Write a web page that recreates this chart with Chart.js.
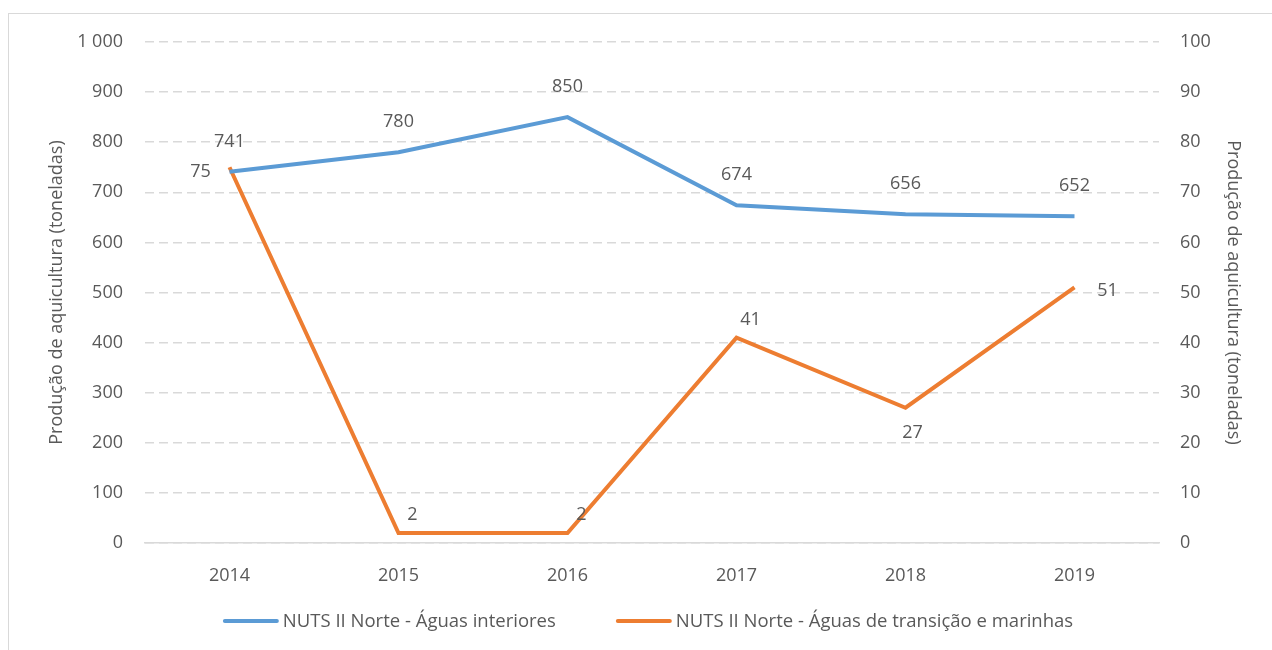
<!DOCTYPE html>
<html>
<head>
<meta charset="utf-8">
<script src="https://cdn.jsdelivr.net/npm/chart.js@4/dist/chart.umd.min.js"></script>
<style>
  html, body { margin: 0; padding: 0; background: #fff; }
  #wrap { width: 1272px; height: 650px; }
</style>
</head>
<body>
<div id="wrap"><canvas id="chart" width="1272" height="650"></canvas></div>
<script>
const years = ['2014', '2015', '2016', '2017', '2018', '2019'];
const interiores = [741, 780, 850, 674, 656, 652];
const marinhas = [75, 2, 2, 41, 27, 51];
const seriesNames = ['NUTS II Norte - Águas interiores', 'NUTS II Norte - Águas de transição e marinhas'];
const axisTitle = 'Produção de aquicultura (toneladas)';

// where each orange label sits relative to its point
const marinhasLabelPos = ['left', 'topRight', 'topRight', 'topRight', 'bottom', 'right'];

const textColor = '#595959';
const fontFamily = "'Open Sans', 'Noto Sans', sans-serif";
const fontSize = 18;

function fmt(v) {
    return String(v).replace(/\B(?=(\d{3})+(?!\d))/g, ' ');
}

// frame around the whole chart
const framePlugin = {
    id: 'frame',
    beforeDraw(chart) {
        const ctx = chart.ctx;
        ctx.save();
        ctx.strokeStyle = '#D9D9D9';
        ctx.lineWidth = 1;
        ctx.strokeRect(8.5, 13.5, 1400, 800);
        ctx.restore();
    }
};

// value labels next to the points
const valueLabels = {
    id: 'valueLabels',
    afterDatasetsDraw(chart) {
        const ctx = chart.ctx;
        ctx.save();
        ctx.font = fontSize + 'px ' + fontFamily;
        ctx.fillStyle = textColor;
        ctx.textAlign = 'center';
        ctx.textBaseline = 'middle';
        chart.getDatasetMeta(0).data.forEach((pt, i) => {
            ctx.fillText(fmt(interiores[i]), pt.x, pt.y - 30);
        });
        chart.getDatasetMeta(1).data.forEach((pt, i) => {
            let dx = 0, dy = 0;
            switch (marinhasLabelPos[i]) {
                case 'left': dx = -29; dy = 5; break;
                case 'right': dx = 33; dy = 3; break;
                case 'topRight': dx = 14; dy = -18; break;
                case 'bottom': dx = 7; dy = 25; break;
            }
            ctx.fillText(fmt(marinhas[i]), pt.x + dx, pt.y + dy);
        });
        ctx.restore();
    }
};

// legend: line sample + series name, centred under the plot
const lineLegend = {
    id: 'lineLegend',
    afterDraw(chart) {
        const ctx = chart.ctx;
        const area = chart.chartArea;
        const sample = 56, textGap = 4, itemGap = 60, y = 621;
        ctx.save();
        ctx.font = '18.5px ' + fontFamily;
        ctx.textBaseline = 'middle';
        ctx.textAlign = 'left';
        const items = chart.data.datasets.map(ds => ({
            text: ds.label,
            color: ds.borderColor,
            w: sample + textGap + ctx.measureText(ds.label).width
        }));
        const total = items.reduce((s, it) => s + it.w, 0) + itemGap * (items.length - 1);
        let x = (area.left + area.right) / 2 - 4 - total / 2;
        items.forEach(it => {
            ctx.strokeStyle = it.color;
            ctx.lineWidth = 4;
            ctx.lineCap = 'round';
            ctx.beginPath();
            ctx.moveTo(x + 2, y);
            ctx.lineTo(x + sample - 2, y);
            ctx.stroke();
            ctx.fillStyle = textColor;
            ctx.fillText(it.text, x + sample + textGap, y + 1);
            x += it.w + itemGap;
        });
        ctx.restore();
    }
};

Chart.defaults.font.family = fontFamily;
Chart.defaults.color = textColor;

new Chart(document.getElementById('chart'), {
    type: 'line',
    data: {
        labels: years,
        datasets: [
            {
                label: seriesNames[0],
                data: interiores,
                borderColor: '#5B9BD5',
                backgroundColor: '#5B9BD5',
                borderWidth: 4,
                pointRadius: 0,
                tension: 0,
                yAxisID: 'y'
            },
            {
                label: seriesNames[1],
                data: marinhas,
                borderColor: '#ED7D31',
                backgroundColor: '#ED7D31',
                borderWidth: 4,
                pointRadius: 0,
                tension: 0,
                yAxisID: 'y1'
            }
        ]
    },
    options: {
        responsive: false,
        animation: false,
        layout: { padding: { left: 0, right: 0, top: 42, bottom: 47 } },
        plugins: {
            tooltip: { enabled: false },
            legend: { display: false }
        },
        scales: {
            x: {
                offset: true,
                grid: { display: false },
                border: { display: true, color: '#D9D9D9', width: 1.5 },
                ticks: { font: { size: fontSize }, color: textColor, padding: 14 },
                afterFit(scale) { scale.height = 60; }
            },
            y: {
                position: 'left',
                min: 0,
                max: 1000,
                ticks: { stepSize: 100, font: { size: fontSize }, color: textColor, padding: 22, callback: v => fmt(v) },
                grid: { color: '#D9D9D9', lineWidth: 1.5, drawTicks: false },
                border: { display: false, dash: [9, 5] },
                title: { display: true, text: axisTitle, font: { size: fontSize }, color: textColor, padding: { top: 46, bottom: 0 } },
                afterFit(scale) { scale.width = 145; }
            },
            y1: {
                position: 'right',
                min: 0,
                max: 100,
                ticks: { stepSize: 10, font: { size: fontSize }, color: textColor, padding: 21 },
                grid: { display: false, drawTicks: false },
                border: { display: false },
                title: { display: true, text: axisTitle, font: { size: fontSize }, color: textColor, padding: { top: 28, bottom: 0 } },
                afterFit(scale) { scale.width = 113; }
            }
        }
    },
    plugins: [framePlugin, valueLabels, lineLegend]
});
</script>
</body>
</html>
